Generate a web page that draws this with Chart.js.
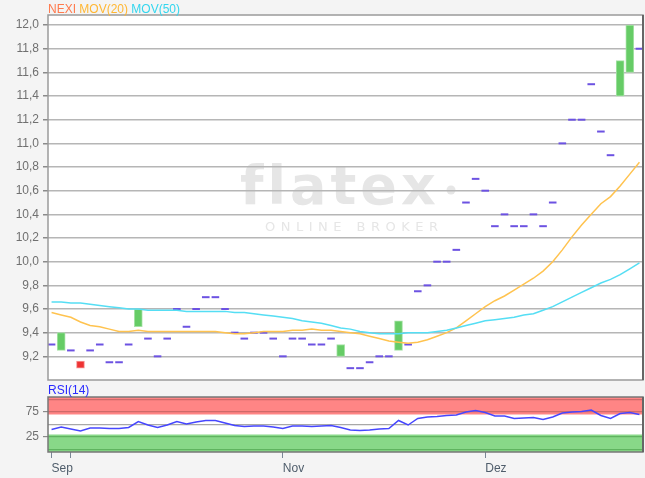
<!DOCTYPE html>
<html><head><meta charset="utf-8">
<script src="https://cdn.jsdelivr.net/npm/chart.js@4/dist/chart.umd.min.js"></script>
<style>
html,body{margin:0;padding:0;background:#f4f4f4;}
#wrap{position:relative;width:645px;height:478px;overflow:hidden;}
canvas{position:absolute;left:0;}
#c1{top:0;} #c2{top:380px;}
</style></head><body>
<div id="wrap"><canvas id="c1" width="645" height="395"></canvas><canvas id="c2" width="645" height="98"></canvas></div>
<script>
// ---- data ----
const symbol = 'NEXI';
const opens = [9.30, 9.25, 9.25, 9.16, 9.25, 9.30, 9.15, 9.15, 9.30, 9.45,
 9.35, 9.20, 9.35, 9.60, 9.45, 9.60, 9.70, 9.70, 9.60, 9.40,
 9.35, 9.40, 9.40, 9.35, 9.20, 9.35, 9.35, 9.30, 9.30, 9.35,
 9.20, 9.10, 9.10, 9.15, 9.20, 9.20, 9.25, 9.30, 9.75, 9.80,
 10.00, 10.00, 10.10, 10.50, 10.70, 10.60, 10.30, 10.40, 10.30, 10.30,
 10.40, 10.30, 10.50, 11.00, 11.20, 11.20, 11.50, 11.10, 10.90, 11.40,
 11.60, 11.80];
const closes = [9.30, 9.40, 9.25, 9.10, 9.25, 9.30, 9.15, 9.15, 9.30, 9.60,
 9.35, 9.20, 9.35, 9.60, 9.45, 9.60, 9.70, 9.70, 9.60, 9.40,
 9.35, 9.40, 9.40, 9.35, 9.20, 9.35, 9.35, 9.30, 9.30, 9.35,
 9.30, 9.10, 9.10, 9.15, 9.20, 9.20, 9.50, 9.30, 9.75, 9.80,
 10.00, 10.00, 10.10, 10.50, 10.70, 10.60, 10.30, 10.40, 10.30, 10.30,
 10.40, 10.30, 10.50, 11.00, 11.20, 11.20, 11.50, 11.10, 10.90, 11.70,
 12.00, 11.80];
const mov20 = [9.57, 9.55, 9.53, 9.49, 9.46, 9.45, 9.43, 9.41, 9.41, 9.42,
 9.41, 9.41, 9.41, 9.41, 9.41, 9.41, 9.41, 9.41, 9.40, 9.39,
 9.39, 9.40, 9.41, 9.41, 9.41, 9.42, 9.42, 9.43, 9.42, 9.42,
 9.41, 9.40, 9.39, 9.37, 9.35, 9.33, 9.32, 9.31, 9.32, 9.34,
 9.37, 9.40, 9.44, 9.50, 9.56, 9.62, 9.67, 9.71, 9.76, 9.81,
 9.86, 9.92, 10.00, 10.10, 10.21, 10.31, 10.40, 10.49, 10.55, 10.64,
 10.74, 10.84];
const mov50 = [9.66, 9.66, 9.65, 9.65, 9.64, 9.63, 9.62, 9.61, 9.60, 9.60,
 9.59, 9.59, 9.59, 9.59, 9.58, 9.58, 9.58, 9.58, 9.58, 9.57,
 9.57, 9.56, 9.55, 9.54, 9.53, 9.52, 9.50, 9.49, 9.48, 9.46,
 9.44, 9.43, 9.41, 9.40, 9.39, 9.39, 9.39, 9.40, 9.40, 9.40,
 9.41, 9.42, 9.44, 9.46, 9.48, 9.50, 9.51, 9.52, 9.53, 9.55,
 9.56, 9.59, 9.62, 9.66, 9.70, 9.74, 9.78, 9.82, 9.85, 9.89,
 9.94, 9.99];
const rsi14 = [40, 45, 41, 37, 43, 43, 42, 42, 44, 56,
 49, 44, 49, 56, 51, 55, 58, 58, 53, 48,
 46, 47, 47, 45, 42, 47, 47, 46, 47, 48,
 44, 39, 38, 39, 41, 42, 58, 49, 62, 65,
 66, 68, 69, 75, 78, 74, 67, 67, 62, 63,
 64, 60, 65, 73, 75, 76, 79, 68, 62, 72,
 74, 70];
const priceTicks = [9.2, 9.4, 9.6, 9.8, 10.0, 10.2, 10.4, 10.6, 10.8, 11.0, 11.2, 11.4, 11.6, 11.8, 12.0];
const rsiTicks = [0, 25, 50, 75, 100];
const rsiLabelTicks = [25, 75];
const monthTickIdx = [0, 2, 24, 45];
const monthLabels = ['Sep', '', 'Nov', 'Dez'];
const legendItems = [['NEXI', '#ff7a4d'], ['MOV(20)', '#ffb733'], ['MOV(50)', '#33d6ee']];

// ---- setup ----
const FONT = "'Liberation Sans', Arial, sans-serif";
Chart.defaults.font.family = FONT;
Chart.defaults.font.size = 12;
const xMin = -0.37, xMax = 61.37;
const idx = opens.map((_, i) => i);
const bodyIdx = idx.filter(i => opens[i] !== closes[i]);
const flatIdx = idx.filter(i => opens[i] === closes[i]);

const panelPlugin = {
  id: 'panel',
  beforeDraw(chart, args, o) {
    const {ctx, chartArea: a} = chart;
    ctx.save();
    ctx.fillStyle = '#ffffff';
    ctx.fillRect(a.left, a.top, a.right - a.left, a.bottom - a.top);
    if (o.bands) {
      const ys = chart.scales.y;
      o.bands.forEach(b => {
        const y1 = ys.getPixelForValue(b.to), y2 = ys.getPixelForValue(b.from);
        ctx.fillStyle = b.color;
        ctx.fillRect(a.left, y1, a.right - a.left, y2 - y1);
      });
    }
    if (o.watermark) {
      ctx.fillStyle = '#e6e6e6';
      ctx.font = "bold 54px 'DejaVu Sans', sans-serif";
      ctx.textBaseline = 'alphabetic';
      ctx.textAlign = 'left';
      try { ctx.letterSpacing = '4px'; } catch (e) {}
      ctx.fillText('flatex', 240, 204);
      ctx.beginPath(); ctx.arc(451, 190, 4.5, 0, Math.PI * 2); ctx.fill();
      ctx.font = "13px 'DejaVu Sans', sans-serif";
      try { ctx.letterSpacing = '5.5px'; } catch (e) {}
      ctx.fillText('ONLINE BROKER', 265, 231);
      try { ctx.letterSpacing = '0px'; } catch (e) {}
    }
    ctx.restore();
  },
  afterDraw(chart, args, o) {
    const {ctx, chartArea: a} = chart;
    ctx.save();
    ctx.lineWidth = 1.5;
    ctx.strokeStyle = o.frame || '#999';
    ctx.strokeRect(a.left, a.top, a.right - a.left, a.bottom - a.top);
    ctx.strokeStyle = o.frameDark || '#666';
    ctx.lineWidth = 2;
    ctx.beginPath(); ctx.moveTo(a.right, a.top); ctx.lineTo(a.right, a.bottom); ctx.stroke();
    if (o.texts) {
      ctx.font = '12px ' + FONT;
      ctx.textBaseline = 'alphabetic';
      ctx.textAlign = 'left';
      let x = o.texts.x;
      o.texts.items.forEach(([t, c]) => {
        ctx.fillStyle = c;
        ctx.fillText(t, x, o.texts.y);
        x += ctx.measureText(t + ' ').width;
      });
    }
    ctx.restore();
  }
};

// ---- main price chart ----
new Chart(document.getElementById('c1'), {
  type: 'line',
  data: {
    datasets: [
      { type: 'line', data: idx.map(i => ({x: i, y: mov50[i]})), borderColor: '#55def4', borderWidth: 1.5,
        pointRadius: 0, tension: 0, order: 0 },
      { type: 'line', data: idx.map(i => ({x: i, y: mov20[i]})), borderColor: '#ffc34f', borderWidth: 1.5,
        pointRadius: 0, tension: 0, order: 0 },
      { type: 'bar', data: bodyIdx.map(i => ({x: i, y: [opens[i], closes[i]]})),
        backgroundColor: bodyIdx.map(i => closes[i] > opens[i] ? '#66cc66' : '#ee3333'),
        borderColor: bodyIdx.map(i => closes[i] > opens[i] ? '#a6e2a6' : '#f79a9a'),
        borderWidth: 1, borderSkipped: false, barThickness: 8, grouped: false, order: 1 },
      { type: 'line', showLine: false, data: flatIdx.map(i => ({x: i, y: closes[i]})),
        pointStyle: 'line', pointRadius: 3.8, pointBorderColor: '#6c52e2', pointBorderWidth: 2,
        pointHoverRadius: 3.8, order: 1 }
    ]
  },
  options: {
    responsive: false, animation: false, events: [], devicePixelRatio: 1,
    layout: { autoPadding: false, padding: { top: 15, right: 2, bottom: 15, left: 0 } },
    plugins: {
      legend: { display: false }, tooltip: { enabled: false },
      panel: { watermark: true, frame: '#9a9a9a', frameDark: '#666',
        texts: { x: 48, y: 13, items: legendItems } }
    },
    scales: {
      x: { type: 'linear', min: xMin, max: xMax, offset: false, display: false },
      y: {
        min: 9.0, max: 12.085,
        afterBuildTicks: s => { s.ticks = priceTicks.map(v => ({value: v})); },
        afterFit: s => { s.width = 48; },
        ticks: { color: '#707070', padding: 4, autoSkip: false, callback: v => Number(v).toFixed(1).replace('.', ',') },
        grid: { color: '#b6b6b6', lineWidth: 1.5, drawTicks: true, tickLength: 5, tickColor: '#8a8a8a' },
        border: { display: false }
      }
    }
  },
  plugins: [panelPlugin]
});

// ---- RSI chart ----
const rsiGrid = v => (v === 100 || v === 75) ? '#cf6a6a' : (v === 50 ? '#a8a8a8' : '#5fb35f');
new Chart(document.getElementById('c2'), {
  type: 'line',
  data: {
    datasets: [
      { data: idx.map(i => ({x: i, y: rsi14[i]})), borderColor: '#4646ff', borderWidth: 1.5,
        pointRadius: 0, tension: 0 }
    ]
  },
  options: {
    responsive: false, animation: false, events: [], devicePixelRatio: 1,
    layout: { autoPadding: false, padding: { top: 17, right: 2, bottom: 0, left: 0 } },
    plugins: {
      legend: { display: false }, tooltip: { enabled: false },
      panel: { bands: [{from: 70, to: 105, color: '#ff8585'}, {from: -5, to: 30, color: '#88d888'}],
        frame: '#777', frameDark: '#666',
        texts: { x: 48, y: 14, items: [['RSI(14)', '#2a2aff']] } }
    },
    scales: {
      x: {
        type: 'linear', min: xMin, max: xMax, offset: false,
        afterBuildTicks: s => { s.ticks = monthTickIdx.map(v => ({value: v})); },
        afterFit: s => { s.height = 26; },
        ticks: { align: 'start', color: '#4f5d6b', padding: 3, maxRotation: 0, autoSkip: false,
          callback: v => monthLabels[monthTickIdx.indexOf(v)] },
        grid: { drawOnChartArea: false, drawTicks: true, tickLength: 6, tickColor: '#7a8796' },
        border: { display: false }
      },
      y: {
        min: -5, max: 105,
        afterBuildTicks: s => { s.ticks = rsiTicks.map(v => ({value: v})); },
        afterFit: s => { s.width = 48; },
        ticks: { color: '#707070', padding: 4, autoSkip: false, callback: v => rsiLabelTicks.includes(v) ? String(v) : '' },
        grid: { color: c => rsiGrid(c.tick ? c.tick.value : 50), lineWidth: 1.2, tickLength: 5,
          tickColor: c => (c.tick && rsiLabelTicks.includes(c.tick.value)) ? '#8a8a8a' : 'rgba(0,0,0,0)' },
        border: { display: false }
      }
    }
  },
  plugins: [panelPlugin]
});
</script>
</body></html>
